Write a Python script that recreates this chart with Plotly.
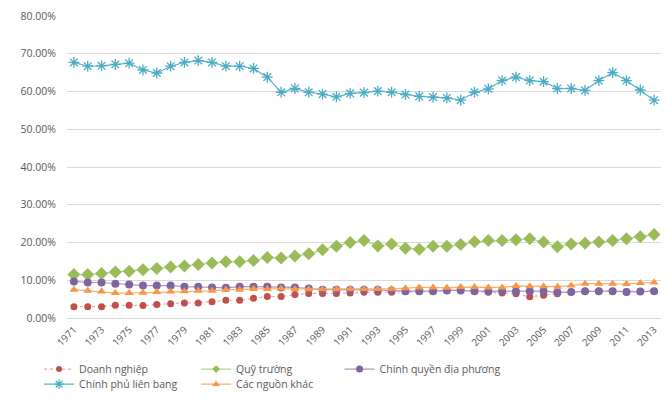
import plotly.graph_objects as go

# Funding shares by source, 1971-2013 (percent of total)
years = list(range(1971, 2014))

doanh_nghiep = [3.0, 3.0, 3.0, 3.4, 3.4, 3.3, 3.6, 3.8, 4.0, 4.0, 4.3,
                4.7, 4.7, 5.2, 5.7, 5.7, 6.2, 6.5, 6.5, 6.5, 6.6, 6.8, 6.8, 6.8, 7.0, 7.0, 7.0,
                7.3, 7.3, 7.1, 6.8, 6.6, 6.4, 5.6, 6.0, 6.4, 6.9, 7.1, 7.1, 7.1, 6.9, 7.0, 7.1]

quy_truong = [11.5, 11.5, 11.8, 12.2, 12.4, 12.8, 13.1, 13.5, 13.8, 14.2, 14.6,
              14.9, 14.9, 15.2, 16.0, 15.9, 16.4, 17.0, 18.1, 19.0, 20.0, 20.5, 19.1, 19.6, 18.5, 18.2, 19.0,
              19.0, 19.5, 20.2, 20.5, 20.5, 20.7, 21.0, 20.1, 18.9, 19.6, 19.8, 20.1, 20.5, 21.0, 21.5, 22.1]

chinh_quyen_dp = [9.7, 9.4, 9.4, 9.1, 8.9, 8.6, 8.6, 8.6, 8.3, 8.3, 8.1,
                  8.0, 8.3, 8.3, 8.3, 8.1, 8.1, 7.8, 7.5, 7.5, 7.5, 7.5, 7.5, 7.3, 7.1, 7.1, 7.1,
                  7.3, 7.3, 7.1, 7.1, 7.1, 7.1, 7.1, 7.1, 6.8, 6.9, 7.1, 7.1, 7.1, 6.9, 7.0, 7.1]

chinh_phu_lb = [67.7, 66.7, 66.8, 67.2, 67.5, 65.7, 64.9, 66.7, 67.7, 68.2, 67.7,
                66.7, 66.7, 66.1, 63.8, 59.8, 60.8, 59.8, 59.3, 58.6, 59.5, 59.7, 60.1, 59.8, 59.2, 58.7, 58.5,
                58.3, 57.7, 59.8, 60.7, 62.9, 63.8, 62.9, 62.6, 60.8, 60.8, 60.3, 62.9, 65.0, 62.9, 60.4, 57.7]

nguon_khac = [7.5, 7.2, 7.0, 6.6, 6.6, 6.7, 6.9, 7.0, 7.1, 7.2, 7.2,
              7.5, 7.5, 7.7, 7.7, 7.8, 7.6, 7.6, 7.6, 7.6, 7.7, 7.7, 7.7, 7.7, 7.9, 8.1, 8.1,
              8.0, 8.2, 8.2, 8.1, 8.1, 8.5, 8.4, 8.4, 8.3, 8.6, 9.1, 9.1, 9.1, 9.0, 9.3, 9.4]

tick_years = list(range(1971, 2014, 2))
y_ticks = [i / 10 for i in range(9)]

FONT = "Open Sans"
TEXT = "#595959"


def frac(vals):
    return [v / 100 for v in vals]


# name, values, line style, chart marker, legend marker size, legend group
series = [
    ("Doanh nghiệp", doanh_nghiep, dict(color="#E8A9A8", width=1.2, dash="dot"),
     dict(symbol="circle", size=7, color="#C0504D"), 6, "legend"),
    ("Quỹ trường", quy_truong, dict(color="#B9D38A", width=1.2),
     dict(symbol="diamond", size=10, color="#9BBB59"), 6, "legend"),
    ("Chính quyền địa phương", chinh_quyen_dp, dict(color="#A996C4", width=1.2),
     dict(symbol="circle", size=8, color="#8064A2"), 7, "legend3"),
    ("Chính phủ liên bang", chinh_phu_lb, dict(color="#5DB3CC", width=1.2),
     dict(symbol="asterisk-open", size=9, color="#4BACC6",
          line=dict(color="#4BACC6", width=1.3)), 8, "legend2"),
    ("Các nguồn khác", nguon_khac, dict(color="#F9AE6E", width=1.2),
     dict(symbol="triangle-up", size=8, color="#F79646"), 7, "legend2"),
]

fig = go.Figure()

for name, vals, line, marker, _, _ in series:
    fig.add_trace(go.Scatter(
        x=years, y=frac(vals), name=name, mode="lines+markers",
        line=line, marker=marker, showlegend=False))

# legend keys with smaller symbols than the plotted markers
for name, _, line, marker, lsize, lg in series:
    m = dict(marker)
    m["size"] = lsize
    fig.add_trace(go.Scatter(
        x=[None], y=[None], name=name, mode="lines+markers",
        line=line, marker=m, showlegend=True, legend=lg, hoverinfo="skip"))

legend_common = dict(
    orientation="h", xanchor="left", yanchor="middle",
    font=dict(family=FONT, size=10.5, color=TEXT),
    bgcolor="rgba(0,0,0,0)", entrywidth=112, entrywidthmode="pixels",
    itemwidth=30, tracegroupgap=0,
)

row1_y = -0.169
row2_y = -0.219
col_x = -0.047

fig.update_layout(
    width=666, height=399,
    margin=dict(l=67, r=5, t=16, b=81, autoexpand=False),
    paper_bgcolor="white", plot_bgcolor="white",
    font=dict(family=FONT, size=10, color=TEXT),
    showlegend=True,
    legend=dict(x=col_x, y=row1_y, **legend_common),
    legend2=dict(x=col_x, y=row2_y, **legend_common),
    legend3=dict(x=col_x + 2 * 150 / 593, y=row1_y,
                 **{k: v for k, v in legend_common.items() if k not in ("entrywidth", "entrywidthmode")}),
    xaxis=dict(
        range=[1970.5, 2013.5], tickmode="array", tickvals=tick_years,
        ticktext=[str(y) for y in tick_years], tickangle=-45,
        showgrid=False, zeroline=False, showline=False,
        ticklabelstandoff=3,
        tickfont=dict(family=FONT, size=10, color=TEXT),
    ),
    yaxis=dict(
        range=[0, 0.8], tickmode="array", tickvals=y_ticks, tickformat=".2%",
        showgrid=True, gridcolor="#D9D9D9", gridwidth=1,
        zeroline=True, zerolinecolor="#D9D9D9", zerolinewidth=1,
        showline=False, ticklabelstandoff=10,
        tickfont=dict(family=FONT, size=10.5, color=TEXT),
    ),
)

fig.write_html("out.html")
